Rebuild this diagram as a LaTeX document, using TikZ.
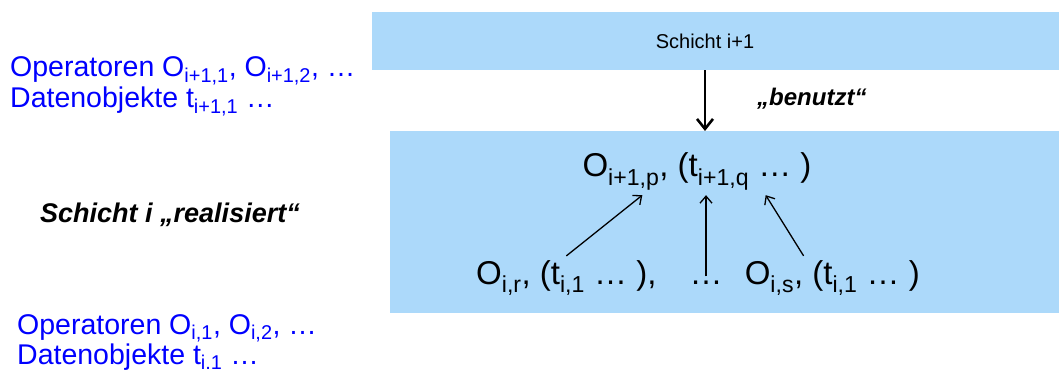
\documentclass[tikz,border=0pt]{standalone}
\usepackage{fontspec}
\setmainfont{Liberation Sans}
\usetikzlibrary{arrows.meta}
\definecolor{schichtblau}{RGB}{172,217,250}
\definecolor{textblau}{RGB}{0,0,255}

\begin{document}
\begin{tikzpicture}[x=1pt,y=-1pt,
    box/.style={fill=schichtblau, draw=none, inner sep=0pt, anchor=north west},
    txt/.style={inner sep=0pt, font=\fontsize{33}{38}\selectfont},
    links/.style={inner sep=0pt, font=\fontsize{28.5}{32}\selectfont, text=textblau, anchor=base west},
    betont/.style={inner sep=0pt, font=\fontsize{#1}{#1}\selectfont\bfseries\itshape},
    pfeil/.style={-{Straight Barb[length=7pt,width=12pt]}, line width=1.3pt},
    dickpfeil/.style={-{Straight Barb[length=10pt,width=16pt]}, line width=2.6pt}]
    \useasboundingbox (0,0) rectangle (1059,374);

    % layer i+1
    \node[box, minimum width=687, minimum height=58] (obenbox) at (372,12) {};
    \node[inner sep=0pt, font=\fontsize{20}{24}\selectfont, anchor=base] (schichtoben) at (705,49) {Schicht i+1};

    % layer i
    \node[box, minimum width=669, minimum height=182] (untenbox) at (390,131) {};

    % uses
    \draw[dickpfeil] (obenbox.south -| schichtoben) -- (untenbox.north -| schichtoben);
    \node[betont=24, anchor=base west] (benutzt) at (757,106) {„benutzt“};

    % operators of layer i+1
    \node[txt, anchor=base] (oben) at (697,177) {O\textsubscript{i+1,p}, (t\textsubscript{i+1,q} … )};

    % operators of layer i
    \node[txt, anchor=base west] (opr) at (476,284) {O\textsubscript{i,r}, (t\textsubscript{i,1} … ),};
    \node[txt, anchor=base] (punkte) at (706,284) {…};
    \node[txt, anchor=base east] (ops) at (920,284) {O\textsubscript{i,s}, (t\textsubscript{i,1} … )};

    \draw[pfeil] ([yshift=4pt]opr.north) -- ([xshift=60pt,yshift=-5pt]oben.south west);
    \draw[pfeil] ([yshift=4pt]punkte.north) -- ([yshift=-5pt]punkte.north |- oben.south);
    \draw[pfeil] ([xshift=59pt,yshift=4pt]ops.north west) -- ([xshift=-46pt,yshift=-5pt]oben.south east);

    % left side
    \node[links] (opoben) at (10,77) {Operatoren O\textsubscript{i+1,1}, O\textsubscript{i+1,2}, …};
    \node[links] (datoben) at (10,108) {Datenobjekte t\textsubscript{i+1,1} …};
    \node[betont=27, anchor=base west] (realisiert) at (40,222) {Schicht i „realisiert“};
    \node[links] (opunten) at (17,334) {Operatoren O\textsubscript{i,1}, O\textsubscript{i,2}, …};
    \node[links] (datunten) at (17,364) {Datenobjekte t\textsubscript{i.1} …};
\end{tikzpicture}
\end{document}
